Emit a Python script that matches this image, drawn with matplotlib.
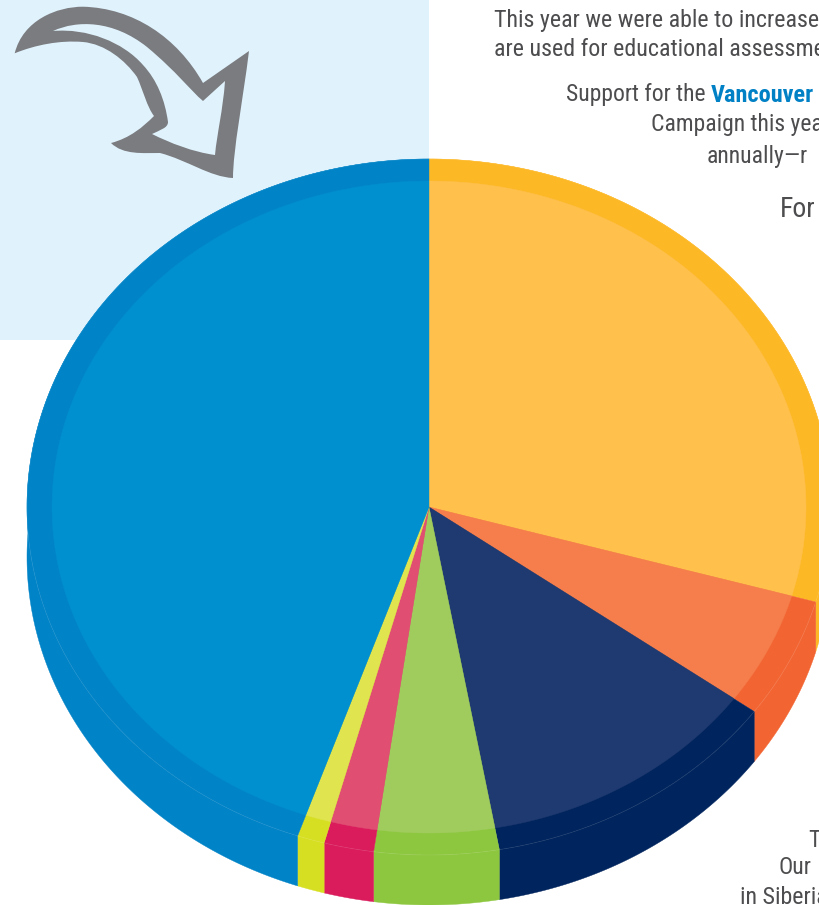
import numpy as np
import matplotlib
matplotlib.use("Agg")
import matplotlib.pyplot as plt
from matplotlib.patches import Polygon, PathPatch, Rectangle
from matplotlib.path import Path

# Slice shares in percent, clockwise from twelve o'clock
shares = [29.4, 5.6, 12.2, 5.0, 2.0, 1.1, 44.7]
face_colors = ["#FFC04C", "#F57E4C", "#1F3A70", "#A0CC5E", "#E04E72", "#DFE44F", "#008FCF"]
rim_colors = ["#FDB825", "#F26532", "#00245D", "#8DC73F", "#DA1C5C", "#D7DF23", "#0083C7"]

TEXT_COLOR = "#4D4D4F"
ACCENT = "#0080C5"
FONT = "Roboto Condensed"

CX, CY = 429, 507
RX, RY = 402, 348
INNER_RX, INNER_RY = 377, 326
DEPTH = 50

fig = plt.figure(figsize=(8.19, 9.05), dpi=100)
ax = fig.add_axes([0, 0, 1, 1])
ax.set_xlim(0, 819)
ax.set_ylim(905, 0)
ax.axis("off")


def arc(start, end, rx, ry, dy=0):
    t = np.radians(np.linspace(start, end, max(3, int(abs(end - start) * 4))))
    return np.column_stack([CX + rx * np.sin(t), CY + dy - ry * np.cos(t)])


# Backdrop panel
ax.add_patch(Rectangle((0, 0), 429, 340, fc="#E0F3FD", ec="none", zorder=0))

# Hand-drawn arrow: outer outline and its cut-out, wound in opposite directions
M, C, L, Z = Path.MOVETO, Path.CURVE4, Path.LINETO, Path.CLOSEPOLY
outline = [
    (14.7, 53.3),
    (23, 20), (57, 6.7), (83, 6.7),
    (133, 8), (177, 37), (203, 83),
    (249, 51),
    (243, 100), (233, 150), (233, 178),
    (210, 177), (187, 160), (160, 153),
    (143, 153), (123, 155), (111, 143),
    (130, 138), (143, 127), (154, 116),
    (147, 107), (143, 90), (137, 77),
    (125, 60), (105, 44), (83, 42),
    (60, 40), (35, 45), (14.7, 53.3),
]
outline_codes = [M, C, C, C, C, C, C, L] + [C] * 21
cutout = [
    (53, 31),
    (77, 20), (113, 20), (147, 47),
    (177, 72), (190, 90), (203, 101),
    (225, 81),
    (223, 110), (217, 133), (215, 155),
    (193, 152), (170, 143), (152, 134),
    (160, 130), (168, 128), (168, 122),
    (165, 100), (157, 80), (143, 65),
    (123, 42), (87, 28), (53, 31),
]
cutout_codes = [M, C, C, C, C, C, C, L] + [C] * 15
# Reversing only the vertices would shift the line segment, so walk the segments backwards
rev_vertices = [cutout[-1]]
rev_codes = [M]
i = len(cutout) - 1
while i > 0:
    if cutout_codes[i] == L:
        rev_vertices.append(cutout[i - 1])
        rev_codes.append(L)
        i -= 1
    else:
        rev_vertices.extend([cutout[i - 1], cutout[i - 2], cutout[i - 3]])
        rev_codes.extend([C, C, C])
        i -= 3
verts = outline + [outline[0]] + rev_vertices + [rev_vertices[0]]
codes = outline_codes + [Z] + rev_codes + [Z]
ax.add_patch(PathPatch(Path(verts, codes), fc="#7B7C80", ec="none", zorder=1))

# Pie body: side walls, then the rim, then the lighter top face
edges = np.concatenate([[0], np.cumsum(shares)]) * 360 / sum(shares)
for start, end, rim in zip(edges[:-1], edges[1:], rim_colors):
    top = arc(start, end, RX, RY)
    bottom = arc(start, end, RX, RY, DEPTH)
    ax.add_patch(Polygon(np.vstack([top, bottom[::-1]]), fc=rim, ec=rim, lw=0.3, zorder=2))
for start, end, rim in zip(edges[:-1], edges[1:], rim_colors):
    rim_pts = np.vstack([[CX, CY], arc(start, end, RX, RY)])
    ax.add_patch(Polygon(rim_pts, fc=rim, ec=rim, lw=0.3, zorder=3))
    # Faint seam where the rim meets the wall
    ax.plot(*arc(start, end, RX, RY).T, color="white", alpha=0.08, lw=0.6, zorder=3.5)
for start, end, face in zip(edges[:-1], edges[1:], face_colors):
    face_pts = np.vstack([[CX, CY], arc(start, end, INNER_RX, INNER_RY)])
    ax.add_patch(Polygon(face_pts, fc=face, ec=face, lw=0.3, zorder=4))

# Body copy running off the right edge of the page
copy_lines = [
    ("This year we were able to increase", 494, 20, 17.3),
    ("are used for educational assessment", 494, 49, 17.3),
    ("Support for the", 566, 95, 17),
    ("Campaign this year", 651, 125, 17),
    ("annually\u2014r", 707, 156, 17),
    ("For", 780, 209, 20),
    ("T", 808, 840, 17),
    ("Our", 778, 867, 17),
    ("in Siberia", 740, 897, 17.3),
]
for line, x, y, size in copy_lines:
    ax.text(x, y, line, family=FONT, fontsize=size, color=TEXT_COLOR,
            ha="left", va="center", clip_on=False, zorder=6)
ax.text(711, 95, "Vancouver", family=FONT, fontsize=17.5, fontweight="bold",
        color=ACCENT, ha="left", va="center", zorder=6)

fig.savefig("out.png", dpi=100)
